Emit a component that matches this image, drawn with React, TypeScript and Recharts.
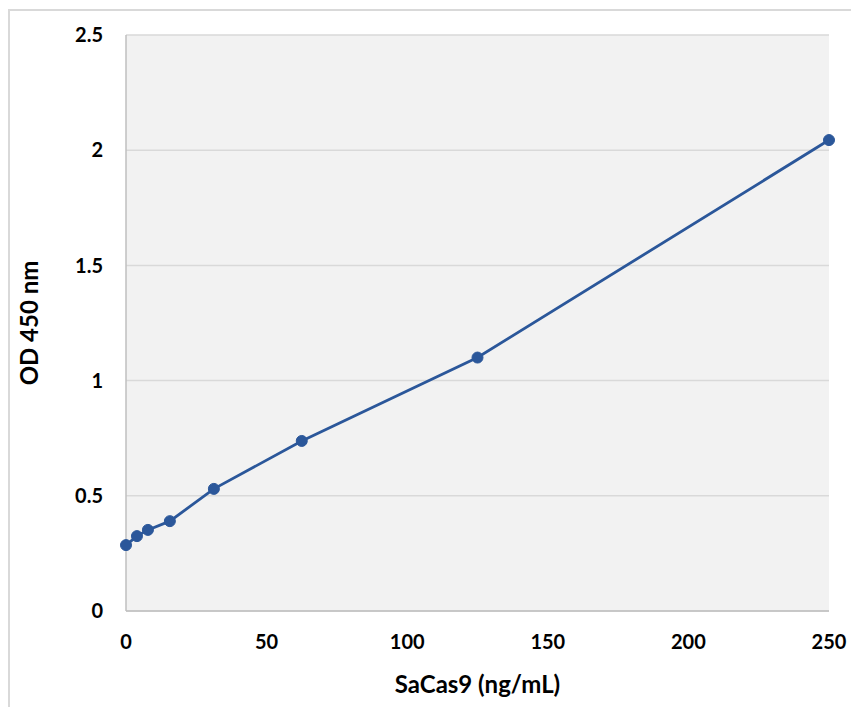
import { LineChart, Line, XAxis, YAxis, CartesianGrid } from 'recharts';

// SaCas9 standard curve (ELISA)
const concentrations = [0, 3.9, 7.8, 15.6, 31.25, 62.5, 125, 250];
const odValues = [0.286, 0.325, 0.352, 0.39, 0.53, 0.738, 1.1, 2.044];
const xTicks = [0, 50, 100, 150, 200, 250];
const yTicks = [0, 0.5, 1, 1.5, 2, 2.5];

const data = concentrations.map((c, i) => ({ conc: c, od: odValues[i] }));

const FONT = 'Lato, "Open Sans", sans-serif';
const BLUE = '#2b579a';

export default function App() {
  return (
    <div style={{ position: 'relative', width: 859, height: 715, margin: -8, overflow: 'hidden', background: '#fff' }}>
      <div
        style={{
          position: 'absolute',
          left: 8,
          top: 9,
          width: 900,
          height: 760,
          borderLeft: '2px solid #d9d9d9',
          borderTop: '2px solid #d9d9d9',
        }}
      />
      <div style={{ position: 'absolute', left: 0, top: 0 }}>
        <LineChart width={859} height={715} data={data} margin={{ top: 35, right: 30, left: 0, bottom: 0 }}>
          <CartesianGrid vertical={false} stroke="#d9d9d9" strokeWidth={1.5} fill="#f2f2f2" />
          <XAxis
            dataKey="conc"
            type="number"
            domain={[0, 250]}
            ticks={xTicks}
            height={104}
            tickLine={false}
            tickSize={0}
            tickMargin={24}
            axisLine={{ stroke: '#bfbfbf', strokeWidth: 1.5 }}
            tick={{ fill: '#000', fontSize: 20, fontWeight: 700, fontFamily: FONT }}
            label={{
              content: (props: any) => {
                const vb = props.viewBox;
                return (
                  <text x={vb.x + vb.width / 2} y={vb.y + 82} textAnchor="middle" fill="#000" fontSize={24} fontWeight={700} fontFamily={FONT}>
                    SaCas9 (ng/mL)
                  </text>
                );
              },
            }}
          />
          <YAxis
            dataKey="od"
            type="number"
            domain={[0, 2.5]}
            ticks={yTicks}
            width={126}
            tickLine={false}
            tickSize={0}
            tickMargin={23}
            axisLine={{ stroke: '#bfbfbf', strokeWidth: 1.5 }}
            tick={{ fill: '#000', fontSize: 20, fontWeight: 700, fontFamily: FONT }}
            label={{
              content: (props: any) => {
                const vb = props.viewBox;
                const cx = vb.x + 38;
                const cy = vb.y + vb.height / 2;
                return (
                  <text x={cx} y={cy} transform={`rotate(-90 ${cx} ${cy})`} textAnchor="middle" fill="#000" fontSize={24} fontWeight={700} fontFamily={FONT}>
                    OD 450 nm
                  </text>
                );
              },
            }}
          />
          <Line
            type="linear"
            dataKey="od"
            stroke={BLUE}
            strokeWidth={2.8}
            dot={{ r: 5.5, fill: BLUE, stroke: BLUE, strokeWidth: 1 }}
            activeDot={false}
            isAnimationActive={false}
          />
        </LineChart>
      </div>
    </div>
  );
}
